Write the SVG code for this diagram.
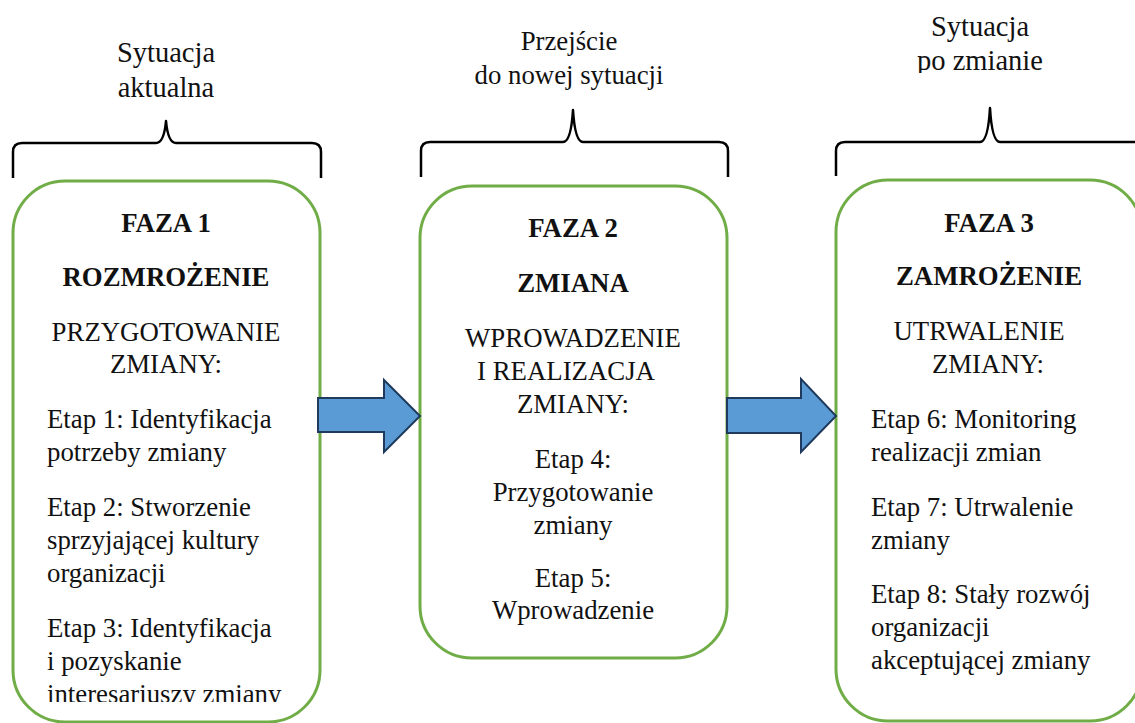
<svg xmlns="http://www.w3.org/2000/svg" width="1135" height="723" viewBox="0 0 1135 723">
  <style>
    .t { font-family: "Liberation Serif", "Times New Roman", serif; font-size: 26.8px; fill: #111; }
    .top { font-size: 28.5px; }
    .b { font-weight: bold; }
    .c { text-anchor: middle; }
    .box { fill: #ffffff; stroke: #70ad47; stroke-width: 3; }
    .brace { fill: none; stroke: #000; stroke-width: 2.5; stroke-linejoin: round; }
    .arrow { fill: #5b9bd5; stroke: #1f3a5c; stroke-width: 2; stroke-linejoin: miter; }
  </style>
  <defs>
    <clipPath id="clipTop3"><rect x="820" y="0" width="315" height="73"/></clipPath>
    <clipPath id="clipBox1"><rect x="0" y="170" width="340" height="532"/></clipPath>
  </defs>
  <rect width="1135" height="723" fill="#ffffff"/>

  <!-- headings above the braces -->
  <g id="label-current">
    <text class="t top c" x="166" y="62">Sytuacja</text>
    <text class="t top c" x="166" y="97">aktualna</text>
  </g>
  <g id="label-transition">
    <text class="t c" x="569" y="50">Przejście</text>
    <text class="t c" x="569" y="84">do nowej sytuacji</text>
  </g>
  <g id="label-after" clip-path="url(#clipTop3)">
    <text class="t top c" x="980" y="36">Sytuacja</text>
    <text class="t top c" x="980" y="70">po zmianie</text>
  </g>

  <!-- curly braces -->
  <g id="braces">
    <path class="brace" d="M13,178 V152 Q13,143 22,143 H156 Q164,143 166,121 Q168,143 176,143 H312 Q321,143 321,152 V178"/>
    <path class="brace" d="M421,177 V151 Q421,142 430,142 H563 Q571,142 573,110 Q575,142 583,142 H719 Q728,142 728,151 V177"/>
    <path class="brace" d="M836,176 V151 Q836,142 845,142 H980 Q988,142 990,108 Q992,142 1000,142 H1140"/>
  </g>

  <!-- phase 1 -->
  <g id="phase1">
    <rect class="box" x="13" y="181" width="307" height="541" rx="52" ry="52"/>
    <g clip-path="url(#clipBox1)">
      <text class="t b c" x="166" y="232">FAZA 1</text>
      <text class="t b c" x="166" y="286">ROZMROŻENIE</text>
      <text class="t c" x="166" y="341">PRZYGOTOWANIE</text>
      <text class="t c" x="166" y="373">ZMIANY:</text>
      <text class="t" x="47" y="428">Etap 1: Identyfikacja</text>
      <text class="t" x="47" y="461">potrzeby zmiany</text>
      <text class="t" x="47" y="516">Etap 2: Stworzenie</text>
      <text class="t" x="47" y="549">sprzyjającej kultury</text>
      <text class="t" x="47" y="582">organizacji</text>
      <text class="t" x="47" y="637">Etap 3: Identyfikacja</text>
      <text class="t" x="47" y="670">i pozyskanie</text>
      <text class="t" x="47" y="703">interesariuszy zmiany</text>
    </g>
  </g>

  <!-- phase 2 -->
  <g id="phase2">
    <rect class="box" x="420" y="186" width="307" height="472" rx="52" ry="52"/>
    <text class="t b c" x="573" y="237">FAZA 2</text>
    <text class="t b c" x="573" y="292">ZMIANA</text>
    <text class="t c" x="573" y="347">WPROWADZENIE</text>
    <text class="t c" x="566" y="380">I REALIZACJA</text>
    <text class="t c" x="573" y="413">ZMIANY:</text>
    <text class="t c" x="573" y="468">Etap 4:</text>
    <text class="t c" x="573" y="501">Przygotowanie</text>
    <text class="t c" x="573" y="534">zmiany</text>
    <text class="t c" x="573" y="587">Etap 5:</text>
    <text class="t c" x="573" y="619">Wprowadzenie</text>
  </g>

  <!-- phase 3 -->
  <g id="phase3">
    <rect class="box" x="836" y="180" width="306" height="541" rx="52" ry="52"/>
    <text class="t b c" x="989" y="232">FAZA 3</text>
    <text class="t b c" x="989" y="285">ZAMROŻENIE</text>
    <text class="t c" x="979" y="340">UTRWALENIE</text>
    <text class="t c" x="988" y="373">ZMIANY:</text>
    <text class="t" x="871" y="428">Etap 6: Monitoring</text>
    <text class="t" x="871" y="461">realizacji zmian</text>
    <text class="t" x="871" y="516">Etap 7: Utrwalenie</text>
    <text class="t" x="871" y="549">zmiany</text>
    <text class="t" x="871" y="603">Etap 8: Stały rozwój</text>
    <text class="t" x="871" y="636">organizacji</text>
    <text class="t" x="871" y="669">akceptującej zmiany</text>
  </g>

  <!-- block arrows between phases -->
  <g id="connectors">
    <polygon class="arrow" points="318,398 384,398 384,380 420,416 384,452 384,432 318,432"/>
    <polygon class="arrow" points="727,398 801,398 801,379 836,416 801,452 801,433 727,433"/>
  </g>
</svg>
